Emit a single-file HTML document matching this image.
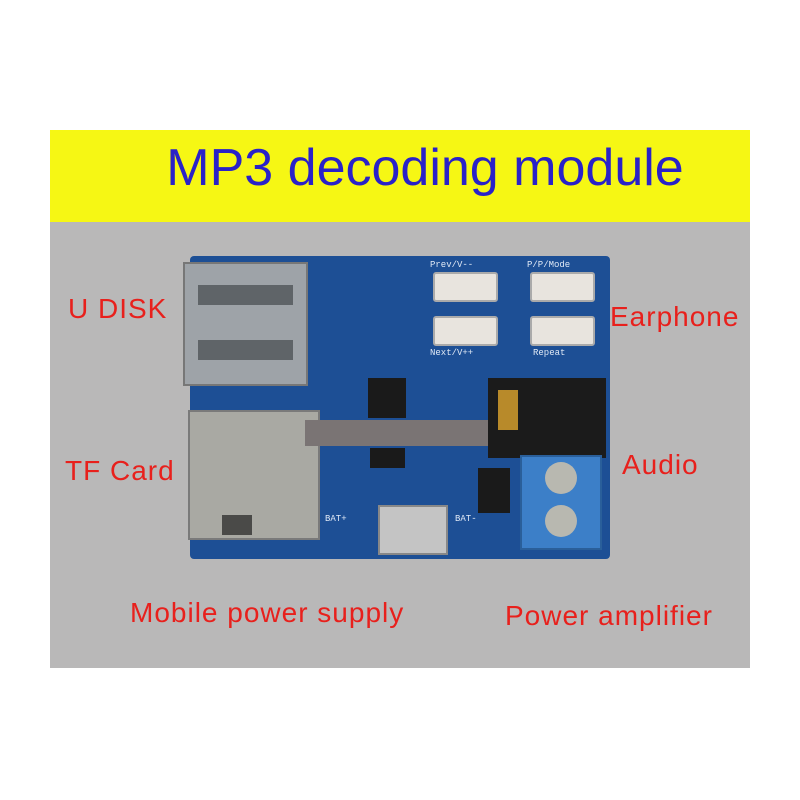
<!DOCTYPE html>
<html><head><meta charset="utf-8"><style>
body{margin:0;width:800px;height:800px;background:#fff;position:relative;overflow:hidden;font-family:"Liberation Sans","DejaVu Sans",sans-serif}
div{position:absolute;box-sizing:border-box}
.lbl{color:#e8201c;font-size:28px;letter-spacing:1px;white-space:nowrap}
.btn{background:#e8e4de;border:2px solid #aaa;border-radius:3px}
.chip{background:#1a1a1a}
.s{color:#dfe8f5;font-size:9px;font-family:"Liberation Mono",monospace}
</style></head><body>
<div style="left:50px;top:130px;width:700px;height:92px;background:#f6f714"></div>
<div style="left:50px;top:138px;width:700px;text-align:center;font-size:52px;color:#2a22c8;text-indent:50px">MP3 decoding module</div>
<div style="left:50px;top:222px;width:700px;height:446px;background:#b9b8b8"></div>
<div style="left:190px;top:256px;width:420px;height:303px;background:#1d4f95;border-radius:4px"></div>
<div style="left:183px;top:262px;width:125px;height:124px;background:#9ea3a8;border:2px solid #777"></div>
<div style="left:198px;top:285px;width:95px;height:20px;background:#5f6468"></div>
<div style="left:198px;top:340px;width:95px;height:20px;background:#5f6468"></div>
<div style="left:188px;top:410px;width:132px;height:130px;background:#a9a9a3;border:2px solid #7a7a7a"></div>
<div style="left:222px;top:515px;width:30px;height:20px;background:#4a4a48"></div>
<div style="left:305px;top:420px;width:185px;height:26px;background:#7a7474"></div>
<div class="chip" style="left:368px;top:378px;width:38px;height:40px"></div>
<div class="chip" style="left:370px;top:448px;width:35px;height:20px"></div>
<div class="chip" style="left:478px;top:468px;width:32px;height:45px"></div>
<div class="btn" style="left:433px;top:272px;width:65px;height:30px"></div>
<div class="btn" style="left:530px;top:272px;width:65px;height:30px"></div>
<div class="btn" style="left:433px;top:316px;width:65px;height:30px"></div>
<div class="btn" style="left:530px;top:316px;width:65px;height:30px"></div>
<div class="s" style="left:430px;top:260px">Prev/V--</div>
<div class="s" style="left:527px;top:260px">P/P/Mode</div>
<div class="s" style="left:430px;top:348px">Next/V++</div>
<div class="s" style="left:533px;top:348px">Repeat</div>
<div class="s" style="left:325px;top:514px">BAT+</div>
<div class="s" style="left:455px;top:514px">BAT-</div>
<div style="left:488px;top:378px;width:118px;height:80px;background:#1b1b1b"></div>
<div style="left:498px;top:390px;width:20px;height:40px;background:#b88a2a"></div>
<div style="left:520px;top:455px;width:82px;height:95px;background:#3c7fc8;border:2px solid #2a5f9a"></div>
<div style="left:545px;top:462px;width:32px;height:32px;border-radius:50%;background:#b8b8b0"></div>
<div style="left:545px;top:505px;width:32px;height:32px;border-radius:50%;background:#b8b8b0"></div>
<div style="left:378px;top:505px;width:70px;height:50px;background:#c4c4c4;border:2px solid #888"></div>
<div class="lbl" style="left:68px;top:293px">U DISK</div>
<div class="lbl" style="left:610px;top:301px">Earphone</div>
<div class="lbl" style="left:65px;top:455px">TF Card</div>
<div class="lbl" style="left:622px;top:449px">Audio</div>
<div class="lbl" style="left:130px;top:597px">Mobile power supply</div>
<div class="lbl" style="left:505px;top:600px">Power amplifier</div>
</body></html>
